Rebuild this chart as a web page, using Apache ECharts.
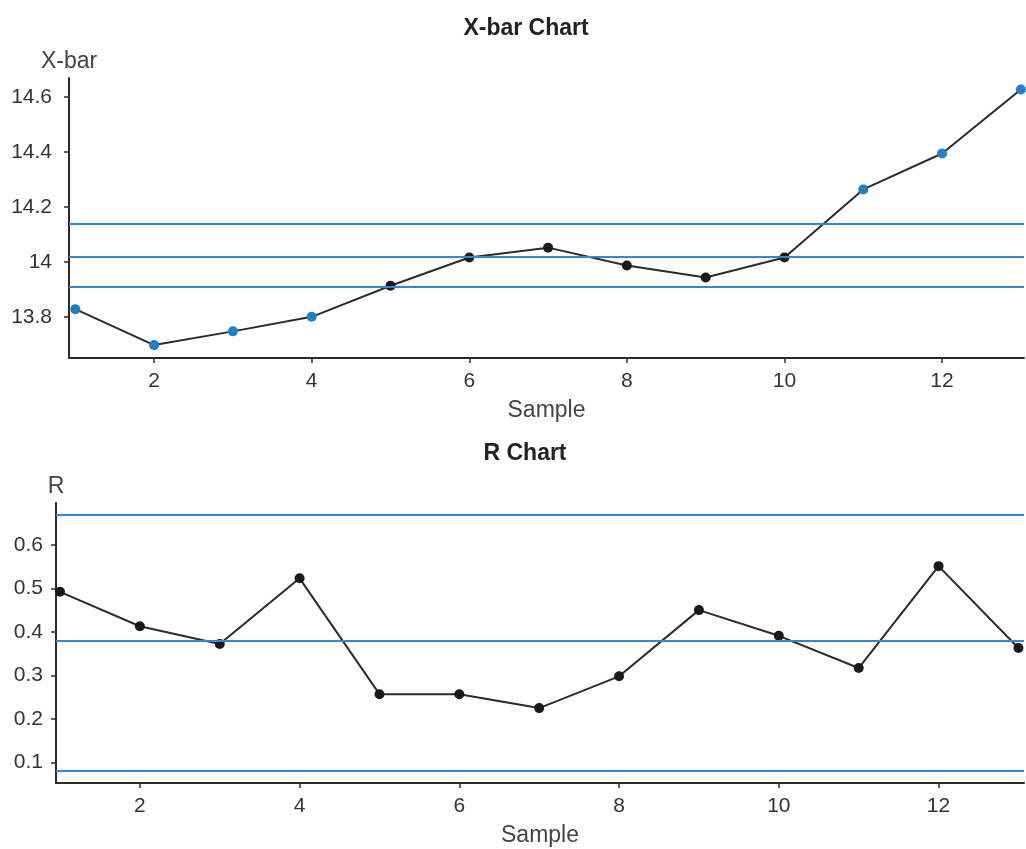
<!DOCTYPE html>
<html>
<head>
<meta charset="utf-8">
<script src="https://cdn.jsdelivr.net/npm/echarts@6/dist/echarts.min.js"></script>
<style>html,body{margin:0;padding:0;background:#fff}#c{width:1026px;height:849px}</style>
</head>
<body>
<div id="c"></div>
<script>
const samples = [1, 2, 3, 4, 5, 6, 7, 8, 9, 10, 11, 12, 13];
const xbarValues = [13.828, 13.697, 13.747, 13.800, 13.913, 14.016, 14.052, 13.987, 13.943, 14.016, 14.264, 14.395, 14.628];
const rValues = [0.492, 0.413, 0.372, 0.523, 0.257, 0.257, 0.225, 0.298, 0.450, 0.391, 0.317, 0.551, 0.363];
const xbarLimits = [14.141, 14.024, 13.908]; // UCL, CL, LCL
const rLimits = [0.671, 0.381, 0.081];
const xTicks = [2, 4, 6, 8, 10, 12];
const xbarTicks = [13.8, 14, 14.2, 14.4, 14.6];
const rTicks = [0.1, 0.2, 0.3, 0.4, 0.5, 0.6];

const FONT = 'Liberation Sans';
const BLUE = '#1f7fc9';
const LINE_BLUE = '#3188d0';
const DARK = '#2b2b2b';

function pts(vals, lim) {
  return samples.map((s, i) => ({
    value: [s, vals[i]],
    itemStyle: { color: (vals[i] > lim[0] || vals[i] < lim[2]) ? BLUE : '#1a1a1a' }
  }));
}
function xAxisCfg(gi, min, max) {
  return {
    type: 'value', gridIndex: gi, min: min, max: max,
    name: 'Sample', nameLocation: 'middle', nameGap: 41,
    nameTextStyle: { fontFamily: FONT, fontSize: 23, color: '#444' },
    axisLine: { show: true, lineStyle: { color: DARK, width: 2 } },
    axisTick: { show: true, length: 5, customValues: xTicks, lineStyle: { color: DARK, width: 1.5 } },
    axisLabel: { customValues: xTicks, margin: 13, fontFamily: FONT, fontSize: 21, color: '#333' },
    splitLine: { show: false }
  };
}
function yAxisCfg(gi, min, max, ticks, name, margin) {
  return {
    type: 'value', gridIndex: gi, min: min, max: max,
    name: name, nameLocation: 'end', nameGap: 5,
    nameTextStyle: { fontFamily: FONT, fontSize: 23, color: '#444', align: 'center' },
    axisLine: { show: true, lineStyle: { color: DARK, width: 2 } },
    axisTick: { show: true, length: 5, customValues: ticks, lineStyle: { color: DARK, width: 1.5 } },
    axisLabel: { customValues: ticks, margin: margin, fontFamily: FONT, fontSize: 21, color: '#333' },
    splitLine: { show: false }
  };
}
function limitLines(lim) {
  return {
    silent: true, symbol: 'none', label: { show: false },
    lineStyle: { color: LINE_BLUE, width: 2, type: 'solid' },
    data: lim.map(v => ({ yAxis: v }))
  };
}

const chart = echarts.init(document.getElementById('c'));
chart.setOption({
  animation: false,
  backgroundColor: '#fff',
  title: [
    { text: 'X-bar Chart', left: 521, top: 12, textAlign: 'center',
      textStyle: { fontFamily: FONT, fontSize: 23, fontWeight: 'bold', color: '#222' } },
    { text: 'R Chart', left: 520, top: 437, textAlign: 'center',
      textStyle: { fontFamily: FONT, fontSize: 23, fontWeight: 'bold', color: '#222' } }
  ],
  grid: [
    { left: 69, top: 78, width: 955, height: 280 },
    { left: 56, top: 503, width: 968, height: 280 }
  ],
  xAxis: [xAxisCfg(0, 0.92, 13.04), xAxisCfg(1, 0.95, 13.07)],
  yAxis: [
    yAxisCfg(0, 13.65, 14.67, xbarTicks, 'X-bar', 17),
    yAxisCfg(1, 0.053, 0.696, rTicks, 'R', 13)
  ],
  series: [
    { type: 'line', xAxisIndex: 0, yAxisIndex: 0, data: pts(xbarValues, xbarLimits),
      symbol: 'circle', symbolSize: 10, clip: false, z: 3,
      lineStyle: { color: DARK, width: 2 }, markLine: limitLines(xbarLimits) },
    { type: 'line', xAxisIndex: 1, yAxisIndex: 1, data: pts(rValues, rLimits),
      symbol: 'circle', symbolSize: 10, clip: false, z: 3,
      lineStyle: { color: DARK, width: 2 }, markLine: limitLines(rLimits) }
  ]
});
</script>
</body>
</html>
